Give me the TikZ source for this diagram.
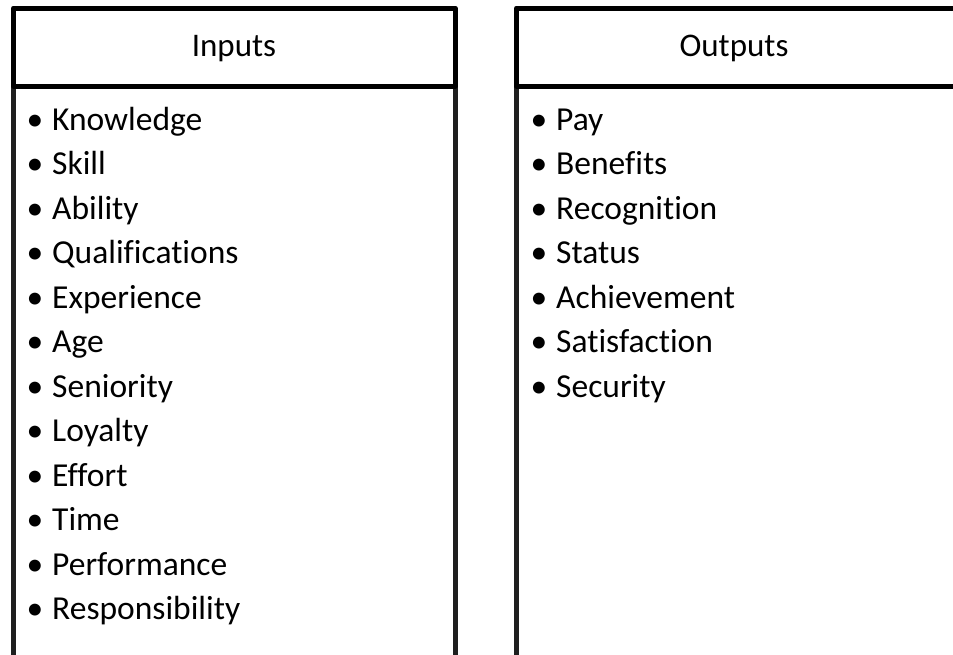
\documentclass[tikz,border=0pt]{standalone}
\usepackage{fontspec}
\setmainfont{Carlito}[Ligatures=NoCommon]
\begin{document}
\begin{tikzpicture}[x=1pt,y=-1pt,
  boxline/.style={line width=5pt,draw=black,line join=round},
  sideline/.style={line width=5pt,draw=black!88},
  hdr/.style={font=\fontsize{33}{39}\selectfont,anchor=base,inner sep=0pt},
  itm/.style={font=\fontsize{33.5}{39}\selectfont,anchor=base west,inner sep=0pt},
  bul/.style={font=\fontsize{33.5}{39}\selectfont,anchor=base,inner sep=0pt}]
\useasboundingbox (0,0) rectangle (953,654);
\fill[white] (0,0) rectangle (953,654);
% left box
\coordinate (lt1) at (13.5,8);
\coordinate (lt2) at (455,8);
\coordinate (lh1) at (13.5,86);
\coordinate (lh2) at (455,86);
\coordinate (lb1) at (13.5,670);
\coordinate (lb2) at (455,670);
\draw[sideline] (lh1) -- (lb1);
\draw[sideline] (lh2) -- (lb2);
\draw[boxline] (lh1) -- (lt1) -- (lt2) -- (lh2) -- cycle;
% right box
\coordinate (rt1) at (516.5,8);
\coordinate (rt2) at (957,8);
\coordinate (rh1) at (516.5,86);
\coordinate (rh2) at (957,86);
\coordinate (rb1) at (516.5,670);
\coordinate (rb2) at (957,670);
\draw[sideline] (rh1) -- (rb1);
\draw[sideline] (rh2) -- (rb2);
\draw[boxline] (rh1) -- (rt1) -- (rt2) -- (rh2) -- cycle;
% headers
\node[hdr] (inputs) at (234,56) {Inputs};
\node[hdr] (outputs) at (734,56) {Outputs};
% input items
\foreach \t [count=\i from 0] in {Knowledge,Skill,Ability,Qualifications,Experience,Age,Seniority,Loyalty,Effort,Time,Performance,Responsibility}{
  \node[bul] (ib\i) at (35,130+44.5*\i) {•};
  \node[itm] (in\i) at (52,130+44.5*\i) {\t};
}
% output items
\foreach \t [count=\i from 0] in {Pay,Benefits,Recognition,Status,Achievement,Satisfaction,Security}{
  \node[bul] (ob\i) at (539,130+44.5*\i) {•};
  \node[itm] (out\i) at (556,130+44.5*\i) {\t};
}
\end{tikzpicture}
\end{document}
